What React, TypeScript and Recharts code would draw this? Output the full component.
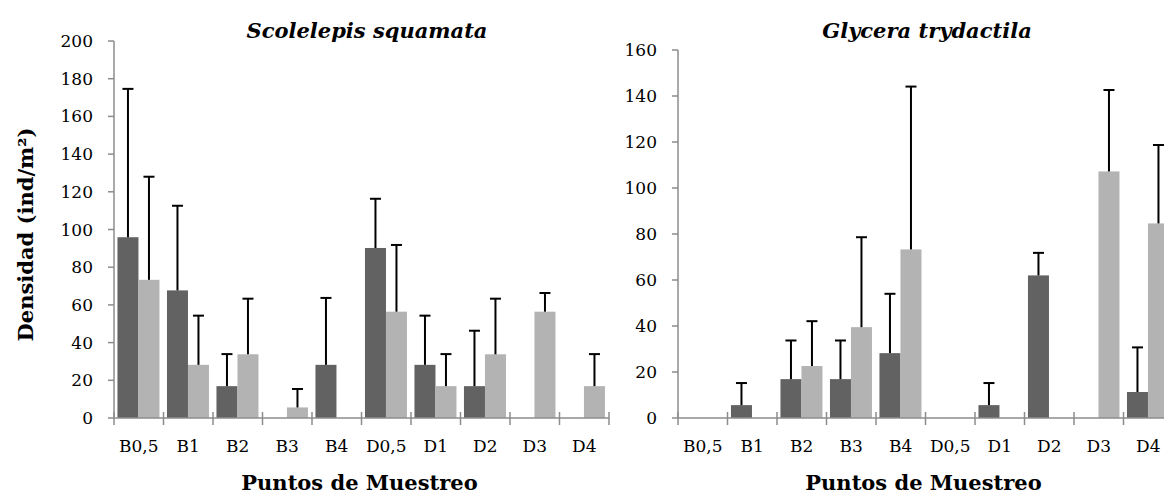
import React from 'react';
import { BarChart, Bar, XAxis, YAxis } from 'recharts';

const categories = ['B0,5', 'B1', 'B2', 'B3', 'B4', 'D0,5', 'D1', 'D2', 'D3', 'D4'];

// Scolelepis squamata
const scolDark = [95.9, 67.7, 16.9, 0, 28.2, 90.2, 28.2, 16.9, 0, 0];
const scolDarkErr = [78.7, 44.9, 17.0, 0, 35.5, 26.1, 26.1, 29.4, 0, 0];
const scolLight = [73.3, 28.2, 33.8, 5.6, 0, 56.4, 16.9, 33.8, 56.4, 16.9];
const scolLightErr = [54.7, 26.1, 29.5, 9.8, 0, 35.4, 17.0, 29.5, 9.9, 17.0];

// Glycera trydactila
const glyDark = [0, 5.6, 16.9, 16.9, 28.2, 0, 5.6, 62.0, 0, 11.3];
const glyDarkErr = [0, 9.6, 16.8, 16.8, 25.8, 0, 9.6, 9.8, 0, 19.4];
const glyLight = [0, 0, 22.6, 39.5, 73.3, 0, 0, 0, 107.2, 84.6];
const glyLightErr = [0, 0, 19.5, 39.1, 70.8, 0, 0, 0, 35.4, 34.1];

const leftTicks = [0, 20, 40, 60, 80, 100, 120, 140, 160, 180, 200];
const rightTicks = [0, 20, 40, 60, 80, 100, 120, 140, 160];

const FONT = '"DejaVu Serif", serif';
const AXIS = '#8c8c8c';
const DARK = '#626262';
const LIGHT = '#b3b3b3';

function buildRows(dark: number[], darkErr: number[], light: number[], lightErr: number[]) {
  return categories.map((c, i) => ({
    cat: c,
    dark: dark[i],
    darkErr: darkErr[i],
    light: light[i],
    lightErr: lightErr[i],
  }));
}

const barShape = (valKey: string, errKey: string) => (props: any) => {
  const { x, y, width, height, fill, payload } = props;
  const v = payload[valKey];
  const e = payload[errKey];
  const h = Math.abs(height || 0);
  const parts: any[] = [];
  if (h > 0) {
    parts.push(<rect key="r" x={x} y={y} width={width} height={h} fill={fill} />);
  }
  if (v > 0 && e > 0 && h > 0) {
    const k = h / v;
    const cx = x + width / 2;
    const top = y - e * k;
    parts.push(<line key="l" x1={cx} x2={cx} y1={y} y2={top} stroke="#000" strokeWidth={2} />);
    parts.push(<line key="c" x1={cx - 5.5} x2={cx + 5.5} y1={top} y2={top} stroke="#000" strokeWidth={2} />);
  }
  return <g>{parts}</g>;
};

const makeXTick = (bw: number, n: number) => (props: any) => {
  const { x, y, payload, index } = props;
  return (
    <g>
      <line x1={x - bw / 2} x2={x - bw / 2} y1={y - 6} y2={y + 7} stroke={AXIS} strokeWidth={1.5} />
      {index === n - 1 ? (
        <line x1={x + bw / 2} x2={x + bw / 2} y1={y - 6} y2={y + 7} stroke={AXIS} strokeWidth={1.5} />
      ) : null}
      <text x={x} y={y + 34} textAnchor="middle" fontFamily={FONT} fontSize={17} fill="#000">
        {payload.value}
      </text>
    </g>
  );
};

type PanelProps = {
  width: number;
  yAxisWidth: number;
  marginRight: number;
  top: number;
  data: any[];
  yMax: number;
  ticks: number[];
  showYTitle: boolean;
};

function Panel({ width, yAxisWidth, marginRight, top, data, yMax, ticks, showYTitle }: PanelProps) {
  const bw = (width - yAxisWidth - marginRight) / categories.length;
  return (
    <BarChart
      width={width}
      height={495}
      data={data}
      margin={{ top, right: marginRight, bottom: 0, left: 0 }}
      barCategoryGap="7%"
      barGap={0}
    >
      <XAxis
        dataKey="cat"
        type="category"
        height={77}
        interval={0}
        tickSize={0}
        tickMargin={0}
        tickLine={false}
        axisLine={{ stroke: AXIS, strokeWidth: 1.5 }}
        tick={makeXTick(bw, categories.length)}
        label={{
          content: (p: any) => {
            const vb = p.viewBox;
            return (
              <text
                x={vb.x + vb.width / 2 - 2}
                y={vb.y + 72}
                textAnchor="middle"
                fontFamily={FONT}
                fontWeight="bold"
                fontSize={21}
                fill="#000"
              >
                Puntos de Muestreo
              </text>
            );
          },
        }}
      />
      <YAxis
        type="number"
        domain={[0, yMax]}
        ticks={ticks}
        interval={0}
        width={yAxisWidth}
        tickSize={6}
        tickMargin={15}
        axisLine={{ stroke: AXIS, strokeWidth: 1.5 }}
        tickLine={{ stroke: AXIS, strokeWidth: 1.5 }}
        tick={{ fontFamily: FONT, fontSize: 17, fill: '#000' }}
        label={
          showYTitle
            ? {
                content: (p: any) => {
                  const vb = p.viewBox;
                  const tx = vb.x + 33;
                  const ty = vb.y + vb.height / 2 + 5;
                  return (
                    <text
                      x={tx}
                      y={ty}
                      transform={`rotate(-90, ${tx}, ${ty})`}
                      textAnchor="middle"
                      fontFamily={FONT}
                      fontWeight="bold"
                      fontSize={21}
                      fill="#000"
                    >
                      Densidad (ind/m²)
                    </text>
                  );
                },
              }
            : undefined
        }
      />
      <Bar dataKey="dark" fill={DARK} isAnimationActive={false} shape={barShape('dark', 'darkErr')} />
      <Bar dataKey="light" fill={LIGHT} isAnimationActive={false} shape={barShape('light', 'lightErr')} />
    </BarChart>
  );
}

export default function App() {
  const leftData = buildRows(scolDark, scolDarkErr, scolLight, scolLightErr);
  const rightData = buildRows(glyDark, glyDarkErr, glyLight, glyLightErr);
  return (
    <div
      style={{
        position: 'absolute',
        left: 0,
        top: 0,
        width: 1164,
        height: 495,
        overflow: 'hidden',
        background: '#fff',
      }}
    >
      <div style={{ position: 'absolute', left: 0, top: 0 }}>
        <Panel
          width={620}
          yAxisWidth={114}
          marginRight={11}
          top={41}
          data={leftData}
          yMax={200}
          ticks={leftTicks}
          showYTitle={true}
        />
      </div>
      <div style={{ position: 'absolute', left: 582, top: 0 }}>
        <Panel
          width={600}
          yAxisWidth={96}
          marginRight={9}
          top={50}
          data={rightData}
          yMax={160}
          ticks={rightTicks}
          showYTitle={false}
        />
      </div>
      <svg
        width={1164}
        height={495}
        style={{ position: 'absolute', left: 0, top: 0, pointerEvents: 'none' }}
      >
        <text x={367} y={38} textAnchor="middle" fontFamily={FONT} fontWeight="bold" fontStyle="italic" fontSize={21} fill="#000">
          Scolelepis squamata
        </text>
        <text x={927} y={38} textAnchor="middle" fontFamily={FONT} fontWeight="bold" fontStyle="italic" fontSize={21} fill="#000">
          Glycera trydactila
        </text>
      </svg>
    </div>
  );
}
